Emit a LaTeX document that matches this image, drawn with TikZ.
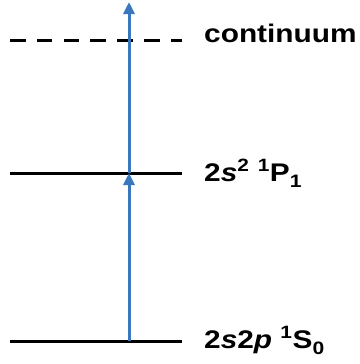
\documentclass[tikz,border=0pt]{standalone}
\usepackage{fontspec}
\setmainfont{Liberation Sans}[FakeStretch=1.17]
\usetikzlibrary{arrows.meta}
\definecolor{arrowblue}{RGB}{58,120,190}
\newcommand\lvlsub[1]{\raisebox{-6pt}{\fontsize{18}{20}\selectfont #1}}
\tikzset{
  level/.style={line width=3pt, black},
  leveldash/.style={line width=3pt, black, dash pattern=on 15.5pt off 11.3pt},
  excite/.style={line width=3pt, arrowblue, -{Triangle[width=11pt,length=12pt]}},
  lbl/.style={anchor=base west, inner sep=0pt, font=\fontsize{25.5}{29}\selectfont\bfseries}
}
\begin{document}
\begin{tikzpicture}[x=1pt,y=-1pt]
\useasboundingbox (0,0) rectangle (359,364);
% level end points
\coordinate (cL) at (10,40.5);
\coordinate (cR) at (182,40.5);
\coordinate (pL) at (10,173);
\coordinate (pR) at (182,173);
\coordinate (sL) at (10,341);
\coordinate (sR) at (182,341);
\coordinate (a0) at (129,341);
\coordinate (a1) at (129,173);
\coordinate (a2) at (129,2);
\draw[leveldash] (cL) -- (cR);
\draw[level] (pL) -- (pR);
\draw[level] (sL) -- (sR);
\draw[excite] (a0) -- (a1);
\draw[excite] (a1) -- (a2);
\node[lbl] (tc) at (204,42) {continuum};
\node[lbl] (tp) at (204,181) {2\textit{s}\textsuperscript{2} \textsuperscript{1}P\lvlsub{1}};
\node[lbl] (ts) at (204,348) {2\textit{s}2\textit{p} \textsuperscript{1}S\lvlsub{0}};
\end{tikzpicture}
\end{document}
